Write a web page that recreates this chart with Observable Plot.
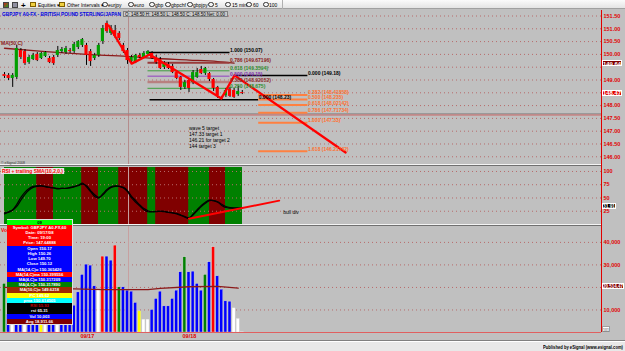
<!DOCTYPE html>
<html><head><meta charset="utf-8">
<script src="https://cdn.jsdelivr.net/npm/d3@7"></script>
<script src="https://cdn.jsdelivr.net/npm/@observablehq/plot@0.6"></script>
<style>
html,body{margin:0;padding:0;background:#c0c0c0;overflow:hidden;}
#root{position:relative;width:625px;height:351px;overflow:hidden;background:#c0c0c0;font-family:"Liberation Sans",Arial,sans-serif;}
#root svg{overflow:visible;}
</style></head>
<body><div id="root"></div>
<script>
// ================= DATA =================
const barOpen = [149.21,149.18,149.06,149.10,150.15,150.11,149.68,149.80,150.00,149.84,
 149.92,149.84,149.88,149.96,150.11,150.07,150.15,150.11,150.27,150.35,
 150.35,150.11,149.84,149.96,150.50,151.21,150.82,150.93,150.82,150.35,
 150.15,149.72,149.68,149.96,149.88,150.00,150.04,149.88,149.80,149.49,
 149.61,149.53,149.29,149.10,148.71,148.98,148.90,149.10,149.41,149.25,
 149.25,149.02,148.71,148.32,148.39,148.63,148.59,148.43,148.51];
const barHigh = [149.29,149.25,149.25,150.35,150.23,150.19,149.96,150.04,150.07,150.07,
 150.11,149.92,149.96,150.31,150.27,150.31,150.23,150.47,150.54,150.62,
 150.43,150.19,150.04,150.43,151.13,151.30,151.13,151.13,150.89,150.43,
 150.23,149.96,150.00,150.04,150.11,150.15,150.11,149.96,149.88,149.72,
 149.68,149.61,149.37,149.14,148.98,149.06,149.37,149.45,149.53,149.49,
 149.29,149.06,148.75,148.36,148.67,148.71,148.67,148.75,148.59];
const barLow = [149.06,148.98,148.71,149.02,149.80,149.57,149.61,149.76,149.72,149.80,
 149.88,149.64,149.57,149.88,150.04,150.00,150.04,150.04,150.19,150.27,
 149.57,149.53,149.76,149.88,150.39,150.82,150.74,150.62,150.54,150.04,
 149.61,149.64,149.64,149.84,149.84,149.96,149.80,149.61,149.41,149.41,
 149.41,149.25,149.02,148.59,148.63,148.51,148.82,149.06,149.21,149.18,
 148.94,148.55,148.28,148.20,148.32,148.32,148.28,148.36,148.43];
const barClose = [149.14,149.06,149.18,150.23,149.88,149.64,149.88,149.96,149.76,150.04,
 150.07,149.68,149.64,150.15,150.19,150.23,150.11,150.39,150.50,150.58,
 149.96,149.72,149.96,150.35,151.01,150.89,151.01,150.70,150.62,150.11,
 149.76,149.88,149.96,149.88,150.04,150.11,149.84,149.68,149.45,149.64,
 149.45,149.29,149.06,148.71,148.90,148.67,149.29,149.29,149.25,149.45,
 149.02,148.67,148.39,148.28,148.59,148.36,148.32,148.55,148.47];

const ma50Bars = [0,10,20,30,36,45,52,56];
const ma50Vals = [150.24,150.11,150.00,149.92,149.85,149.78,149.72,149.66];

const zigBars = [25.4,31,35.4,52.9,56.1,83.2];
const zigPrices = [151.13,149.64,150.00,148.28,149.18,146.17];

const leftFibRatio = ["1.000","0.786","0.618","0.500","0.382","0.250","0.000"];
const leftFibPrice = [150.07,149.67196,149.3594,149.15,148.92052,148.675,148.23];
const leftFibFrom = [35,35,35,35,35,35,35.5];
const leftFibTo = [55,55,55,55,55,55,62];

const rightFibRatio = ["0.000","0.382","0.500","0.618","0.786","1.000","1.618"];
const rightFibPrice = [149.18,148.41858,148.235,148.02142,147.71734,147.33,146.21742];
const rightFibFrom = [56,62,62,62,62,62,62];
const rightFibTo = [74,74,74,74,74,74,74];

const targetNotes = ["wave 5 target","147.33 target 1","146.21 for target 2","144 target 3"];
const cursorBar = 30.25;
const cursorPrice = 147.64888;
const priceGrid = [146,146.5,147,147.5,148,148.5,149,149.5,150,150.5,151,151.5];
const priceTicks = [146,146.5,147,147.5,148,149,150,150.5,151,151.5];
const priceBoxes = [149.64, 148.47];

const rsiVals = [20,24,28,38,51,61,68,72,73,73,71,70,69,67,68,68,70,72,74,78,71,62,53,50,58,66,71,73,72,69,62,50,42,35,28,24,24,25,25,24,23,22,20,17,14,11,20,28,36,42,46,45,42,36,32,31,31,31,32];
const smaVals = [22,23,27,34,46,57,65,70,72,73,72,70,69,68,68,68,69,71,73,76,73,64,56,51,56,64,70,72,72,70,64,53,45,37,30,26,24,24,25,25,23,22,21,18,15,13,18,26,34,40,45,45,43,38,34,32,31,31,32];
const rsiState = "GGGGGGGGRRRRGGGGGGGRRRRGGGGGRRRRRRRGGRRRRRRRRGGGGGRRRRGGGG".split("");
const divBars = [45,67];
const divVals = [11,45];
const rsiTicks = [25,50,75,100];
const rsiLast = "31.91";

const volVals = [21560,8000,12000,26000,16000,11000,14000,9000,12000,6000,10000,13000,9000,15000,11000,8000,12000,
 11900,17800,25550,30130,29690,20490,19020,33690,33690,31910,
 38580,20040,20040,18580,18130,13110,9380,5690,5690,10000,
 14890,18130,11600,11600,14890,18580,26710,33380,26710,27020,
 21560,18580,25560,31160,37820,24930,19020,13820,13690,10710,6000,101];
const volKind = ("g"+"bwbbwbbbywbbwbbb"+"bbbbbbwrbbrgbbbbywwbbbbbbbbgbbbbgbrbbbbww"+"w").split("");
const volMaBars = [0,17,24,35,38,45,52,57];
const volMaVals = [20000,19400,19000,19000,19600,20300,20500,19700];
const volTicks = [10000,30000,40000];
const volGrid = [10000,20000,30000,40000];
const volAvgBox = 20514.47;
const volLastBox = 101;

const dateTickBars = [20.2,45.1];
const dateLabels = ["09/17","09/18"];

const infoRows = ["09","Symbol: GBPJPY A0-FX,60","Date: 09/17/08","Time: 19:00","Price: 147.64888",
 "Open 150.17","High 150.26","Low 149.70","Close 150.12","MA(14,C)o 150.365426","MA(14,C)ma 150.399556",
 "MA(4,C)o 150.317209","MA(4,C)c 150.317890","MA(10,C)o 149.6218","PC 149.62","pma 150.614505",
 "RSI 55.93","rsi 65.31","Vol 10,003","Avg 18,911.66"];
const toolbarItems = ["Equities \u25be","Other Intervals \u25be","eurjpy","euro","gbp","gbpchf","gbpjpy","5","15 min","60","100"];

// ================= STYLE / LAYOUT =================
const infoBg = ["#00ff00","#ff0000","#ff0000","#ff0000","#ff0000","#0000ff","#0000ff","#0000ff","#0000ff","#0000ff","#ff0000","#0000ff","#008000","#a02800","#ffff00","#00ffff","#000000","#000000","#0000ff","#800000"];
const infoFg = ["#000","#fff","#fff","#fff","#fff","#fff","#fff","#fff","#fff","#fff","#fff","#fff","#fff","#fff","#fff","#fff","#c00000","#fff","#fff","#fff"];
const toolbarX = [38,67,108,134,155,171,193,215,232,253,269];
const toolbarIcon = [30,59,102,128,149,165,187,208,225,246,263];
const leftFibStroke = ["#000000","#9a3a3a","#3f9f3f","#9040c0","#b88080","#3f9f3f","#000000"];
const leftFibText = ["#000000","#8b1a1a","#2f8f2f","#8030b0","#8b2a2a","#2f8f2f","#000000"];
const leftFibWidth = [1.5,2,1,1,2.5,1,1.5];
const volColor = {b:"#0000ff",r:"#ff0000",g:"#008000",w:"#ffffff",y:"#ffff00"};
const AXIS_X = 601, X0 = 4, STEP = 4.1;
const xDomain = [-X0/STEP, (AXIS_X - X0)/STEP];
const RED = "#e00000";
const FONT = "Liberation Sans, Arial, sans-serif";

const root = document.getElementById("root");
function box(x,y,w,h,css){const d=document.createElement("div");d.style.cssText=`position:absolute;left:${x}px;top:${y}px;width:${w}px;height:${h}px;${css||""}`;root.appendChild(d);return d;}
function label(txt,x,y,css,fitW){const d=document.createElement("div");d.textContent=txt;d.style.cssText=`position:absolute;left:${x}px;top:${y}px;white-space:nowrap;line-height:1;${css||""}`;root.appendChild(d);if(fitW){const w=d.getBoundingClientRect().width;d.style.transformOrigin="0 0";d.style.transform=`scaleX(${fitW/w})`;}return d;}
function place(svg,top){const w=document.createElement("div");w.style.cssText=`position:absolute;left:0;top:${top}px;`;w.appendChild(svg);root.appendChild(w);}

// ================= PRICE PANEL =================
const candles = barOpen.map((o,i)=>({i,open:o,high:barHigh[i],low:barLow[i],close:barClose[i]}));
const ma50 = ma50Bars.map((b,k)=>({i:b,v:ma50Vals[k]}));
const zig = zigBars.map((b,k)=>({i:b,v:zigPrices[k]}));
const leftFib = leftFibRatio.map((r,k)=>({r,p:leftFibPrice[k],from:leftFibFrom[k],to:leftFibTo[k],k}));
const rightFib = rightFibRatio.map((r,k)=>({r,p:rightFibPrice[k],from:rightFibFrom[k],to:rightFibTo[k],k}));
const PRICE_TOP = 10;
const pricePlot = Plot.plot({
  width:625,height:155,marginLeft:0,marginRight:24,marginTop:0,marginBottom:0,
  style:{background:"transparent",overflow:"visible",fontFamily:FONT},
  color:{type:"identity"},
  x:{domain:xDomain,axis:null},
  y:{domain:[145.66,151.715],axis:null},
  marks:[
    Plot.gridY(priceGrid,{stroke:"#b86a6a",strokeOpacity:1,strokeDasharray:"1,3"}),
    Plot.axisY(priceTicks,{anchor:"right",label:null,tickSize:0,tickPadding:2,color:RED,fontSize:5.5,fontWeight:"bold",tickFormat:d=>d.toFixed(2)}),
    Plot.ruleX([cursorBar],{stroke:"#b48c8c",strokeWidth:1}),
    Plot.ruleY([cursorPrice],{stroke:"#8c8c8c",strokeWidth:1,dy:-0.8}),
    Plot.ruleY([cursorPrice],{stroke:"#c86464",strokeWidth:1,dy:0.4}),
    Plot.line(ma50,{x:"i",y:"v",stroke:"#8b1a1a",strokeWidth:1.3,curve:"monotone-x"}),
    leftFib.map(d=>Plot.ruleY([d],{y:"p",x1:"from",x2:"to",stroke:leftFibStroke[d.k],strokeWidth:leftFibWidth[d.k]})),
    Plot.ruleY(rightFib.filter(d=>d.k>0),{y:"p",x1:"from",x2:"to",stroke:"#ff8040",strokeWidth:2}),
    Plot.ruleY(rightFib.filter(d=>d.k===0),{y:"p",x1:"from",x2:"to",stroke:"#000",strokeWidth:1.5}),
    Plot.ruleX(candles,{x:"i",y1:"low",y2:"high",stroke:"#000",strokeWidth:1}),
    Plot.rect(candles,{x1:d=>d.i-0.38,x2:d=>d.i+0.38,y1:"open",y2:"close",fill:d=>d.close>=d.open?"#00a000":"#ff0000"}),
    Plot.line(zig,{x:"i",y:"v",stroke:"#ff0000",strokeWidth:2.3}),
    Plot.text(leftFib,{x:"to",y:"p",text:d=>`${d.r} (${d.p})`,textAnchor:"start",lineAnchor:"bottom",dy:-0.5,fontSize:5,fontWeight:"bold",fill:d=>leftFibText[d.k]}),
    Plot.text(rightFib,{x:"to",y:"p",text:d=>`${d.r} (${d.p})`,textAnchor:"start",lineAnchor:"bottom",dy:-0.5,fontSize:5,fontWeight:"bold",fill:d=>d.k===0?"#000":"#ff7030"}),
    Plot.text([targetNotes.join("\n")],{x:45,y:147.2,textAnchor:"start",lineAnchor:"top",lineHeight:1.2,fontSize:5,fill:"#000"})
  ]
});
place(pricePlot,PRICE_TOP);
const py = pricePlot.scale("y");

// ================= RSI PANEL =================
const RSI_TOP = 166;
const rsiData = rsiVals.map((v,i)=>({i,rsi:v,sma:smaVals[i]}));
const bands = rsiState.map((s,i)=>({i,up:s==="G"}));
const div = divBars.map((b,k)=>({i:b,v:divVals[k]}));
const bandColor = d=>d.up?"#008000":"#800000";
const rsiPlot = Plot.plot({
  width:625,height:58,marginLeft:0,marginRight:24,marginTop:1,marginBottom:0,
  style:{background:"transparent",overflow:"visible",fontFamily:FONT},
  color:{type:"identity"},
  x:{domain:xDomain,axis:null},
  y:{domain:[0,107.5],axis:null},
  marks:[
    Plot.rect(bands,{x1:"i",x2:d=>d.i+1,y1:0,y2:107.5,fill:bandColor,stroke:bandColor,strokeWidth:0.8,shapeRendering:"crispEdges"}),
    Plot.gridY(rsiTicks,{stroke:"#b86a6a",strokeOpacity:1,strokeDasharray:"1,3"}),
    Plot.axisY(rsiTicks,{anchor:"right",label:null,tickSize:0,tickPadding:2,color:RED,fontSize:5.5,fontWeight:"bold"}),
    Plot.ruleX([cursorBar],{stroke:"#c8a0a0",strokeWidth:1}),
    Plot.line(rsiData,{x:"i",y:"sma",stroke:"#000",strokeWidth:1.2,curve:"catmull-rom"}),
    Plot.line(rsiData,{x:"i",y:"rsi",stroke:"#000",strokeWidth:1.2,curve:"catmull-rom"}),
    Plot.line(div,{x:"i",y:"v",stroke:"#ff0000",strokeWidth:2}),
    Plot.text(["bull div"],{x:68,y:23,textAnchor:"start",fontSize:5,fill:"#000"})
  ]
});
place(rsiPlot,RSI_TOP);
const ry = rsiPlot.scale("y");

// ================= VOLUME PANEL =================
const VOL_TOP = 225;
const vols = volVals.map((v,i)=>({i,v,c:volColor[volKind[i]]}));
const volMa = volMaBars.map((b,k)=>({i:b,v:volMaVals[k]}));
const volPlot = Plot.plot({
  width:625,height:116,marginLeft:0,marginRight:24,marginTop:0,marginBottom:9,
  style:{background:"transparent",overflow:"visible",fontFamily:FONT},
  color:{type:"identity"},
  x:{domain:xDomain,axis:null},
  y:{domain:[0,47500],axis:null},
  marks:[
    Plot.gridY(volGrid,{stroke:"#b86a6a",strokeOpacity:1,strokeDasharray:"1,3"}),
    Plot.axisY(volTicks,{anchor:"right",label:null,tickSize:0,tickPadding:2,color:RED,fontSize:5.5,fontWeight:"bold",tickFormat:d=>d3.format(",")(d)}),
    Plot.ruleX([cursorBar],{stroke:"#c8a0a0",strokeWidth:1}),
    Plot.rectY(vols,{x1:d=>d.i-0.36,x2:d=>d.i+0.36,y:"v",fill:"c",stroke:"#dcdcdc",strokeWidth:0.35}),
    Plot.line(volMa,{x:"i",y:"v",stroke:"#8b1a1a",strokeWidth:1.3}),
    Plot.ruleY([0],{stroke:"#e06060",strokeWidth:1}),
    Plot.axisX(dateTickBars,{anchor:"bottom",label:null,tickSize:0,tickPadding:1.5,color:RED,fontSize:5.5,fontWeight:"bold",tickFormat:d=>dateLabels[dateTickBars.indexOf(d)]})
  ]
});
place(volPlot,VOL_TOP);
const vy = volPlot.scale("y");

// ================= DECORATION (HTML) =================
box(0,0,625,9,"background:linear-gradient(#fbfbfb,#e4e4e4);border-bottom:1px solid #a0a0a0;box-sizing:border-box");
box(282,0,1,9,"background:#b0b0b0");
box(3,1.5,6,6,"background:linear-gradient(135deg,#d02020,#20a020);border:0.5px solid #444;box-sizing:border-box");
box(12,1.5,6,6,"background:#9090a0;border:0.5px solid #444;box-sizing:border-box");
label("+",21,0.5,"font:bold 8px "+FONT+";color:#000");
toolbarIcon.forEach((x,k)=>{
  if(k<2) box(x,2,6,5,"background:#f0d040;border:0.5px solid #806000;box-sizing:border-box");
  else box(x,1.5,5.5,5.5,"border-radius:50%;border:0.8px solid #333;background:#f4f4f4;box-sizing:border-box");
});
toolbarItems.forEach((t,k)=>label(t,toolbarX[k],2.3,"font:5px "+FONT+";color:#000"));

label("GBPJPY A0-FX - BRITISH POUND STERLING/JAPAN",2,11.3,"font:bold 6px "+FONT+";color:#0000e0",119);
box(123,10.5,105,6.5,"background:#cacaca;border:0.5px solid #808080;box-sizing:border-box");
label("O: 148.50    H: 148.50    L: 148.50    C: 148.50    Net: 0.00",125,11.6,"font:4.6px "+FONT+";color:#000",100);

box(AXIS_X,10,1,322,"background:"+RED);
box(0,164,601,1,"background:#f4f4f4"); box(0,165,601,1,"background:#707070");
box(0,223.5,601,1,"background:#f4f4f4"); box(0,224.5,601,1,"background:#707070");
box(0,340,625,1,"background:#808080");
box(0,341,625,10,"background:#e8e8e8;border-top:1px solid #fff;box-sizing:border-box");
label("Published by eSignal (www.esignal.com)",543,344.5,"font:bold 4.6px "+FONT+";color:#000",80);

label("MA(50,C)",1,39.5,"font:bold 5px "+FONT+";color:#8b1a1a");
label("\u00a9 eSignal 2008",1,160.5,"font:3.5px "+FONT+";color:#333");
label("RSI + trailing SMA(10,2,0,)",1,167.6,"font:bold 5px "+FONT+";color:#ff0000;background:#e6e6e6;padding:0 1px",63);
label("Vol",1,227,"font:bold 5px "+FONT+";color:#ff0000");

function valBox(txt,yPage,bg,fg,bd,w){
  box(602,yPage-3.2,w,6.4,`background:${bg};border:0.5px solid ${bd};box-sizing:border-box`);
  label(txt,603,yPage-2.6,`font:bold 5.2px ${FONT};color:${fg};`,w-2);
}
valBox(priceBoxes[0].toFixed(2),PRICE_TOP+py.apply(priceBoxes[0]),"#800000","#fff","#fff",20);
valBox(priceBoxes[1].toFixed(2),PRICE_TOP+py.apply(priceBoxes[1]),"#e00000","#fff","#fff",20);
valBox(rsiLast,RSI_TOP+ry.apply(+rsiLast)-1,"#000","#fff","#fff",14);
valBox(d3.format(",.2f")(volAvgBox),VOL_TOP+vy.apply(volAvgBox),"#800000","#fff","#fff",22);
valBox(String(volLastBox),VOL_TOP+vy.apply(volLastBox)-2.5,"#fff","#808080","#a0a0a0",8);

const IB_X=7, IB_Y=219.5, IB_W=65, RH=5.23;
box(IB_X-0.5,IB_Y-0.5,IB_W+1,RH*infoRows.length+1,"background:#e0e0e0");
infoRows.forEach((t,k)=>{
  const r = box(IB_X,IB_Y+k*RH,IB_W,RH,`background:${infoBg[k]};color:${infoFg[k]};font:bold 4.2px ${FONT};text-align:center;line-height:${RH}px;white-space:nowrap;overflow:hidden`);
  r.textContent = t;
});
</script></body></html>
